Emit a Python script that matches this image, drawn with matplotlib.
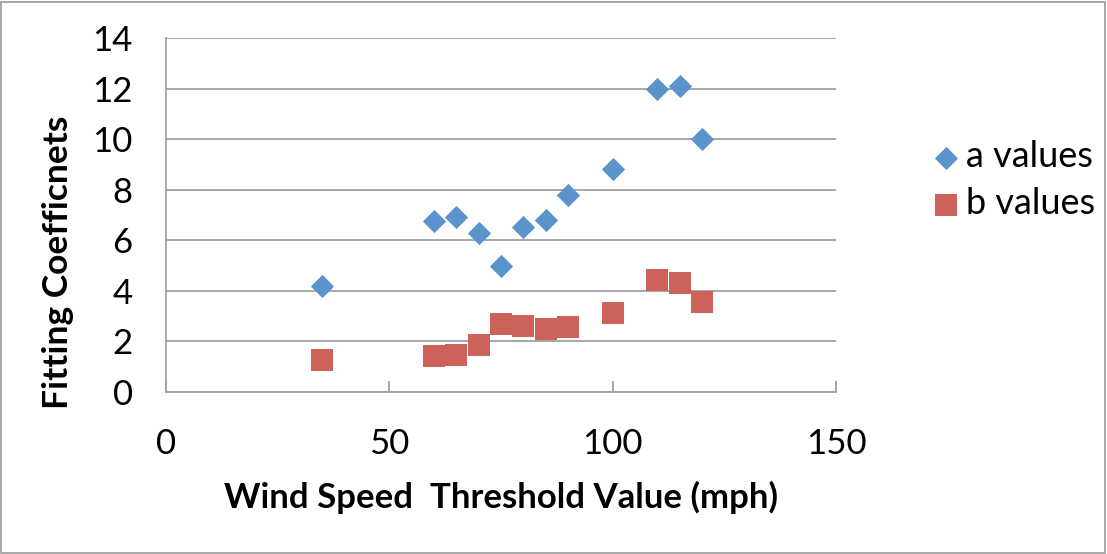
import matplotlib
matplotlib.use("Agg")
import matplotlib.pyplot as plt
from matplotlib.patches import Rectangle

plt.rcParams['font.family'] = ['Lato', 'DejaVu Sans']

wind_speed = [35, 60, 65, 70, 75, 80, 85, 90, 100, 110, 115, 120]
a_values = [4.21, 6.77, 6.93, 6.30, 4.99, 6.54, 6.80, 7.80, 8.83, 11.99, 12.12, 9.99]
b_values = [1.25, 1.42, 1.45, 1.84, 2.67, 2.62, 2.49, 2.59, 3.14, 4.43, 4.33, 3.54]
x_ticks = [0, 50, 100, 150]
y_ticks = [0, 2, 4, 6, 8, 10, 12, 14]

fig = plt.figure(figsize=(11.07, 5.54), dpi=100)
ax = fig.add_axes([166/1107, 1-392/554, (836-166)/1107, (392-38)/554])

ax.scatter(wind_speed, a_values, marker='D', s=140, color='#5B93CC', label='a values', zorder=3, linewidths=0)
ax.scatter(wind_speed, b_values, marker='s', s=270, color='#CD625B', label='b values', zorder=3, linewidths=0)

ax.set_xlim(0, 150)
ax.set_ylim(0, 14)
ax.set_xticks(x_ticks)
ax.set_yticks(y_ticks)
ax.yaxis.grid(True, color='#A0A0A0', linewidth=1.3)
ax.set_axisbelow(True)
for s in ['top', 'right']:
    ax.spines[s].set_visible(False)
ax.spines['left'].set_color('#A0A0A0')
ax.spines['bottom'].set_color('#A0A0A0')
ax.spines['left'].set_linewidth(1.3)
ax.spines['bottom'].set_linewidth(1.3)
ax.tick_params(axis='x', direction='in', length=8, width=1.3, color='#A0A0A0', labelsize=25, pad=26)
ax.tick_params(axis='y', length=0, labelsize=25, pad=24)

fig.text(501/1107, 1-497/554, 'Wind Speed  Threshold Value (mph)', fontsize=25, fontweight='bold',
         ha='center', va='center')
fig.text(58/1107, 1-262/554, 'Fitting Coefficnets', fontsize=25.5, fontweight='bold',
         ha='center', va='center', rotation=90)

ax.legend(loc='upper left', bbox_to_anchor=(932/1107, 1-140/554), bbox_transform=fig.transFigure,
          frameon=False, fontsize=26, handletextpad=0.15, labelspacing=0.4, handlelength=0.8,
          scatterpoints=1, borderaxespad=0, borderpad=0)

fig.patches.append(Rectangle((1/1107, 1/554), 1-3/1107, 1-3/554, transform=fig.transFigure,
                             fill=False, edgecolor='#A0A0A0', linewidth=1.3))

fig.savefig('out.png', dpi=100)
